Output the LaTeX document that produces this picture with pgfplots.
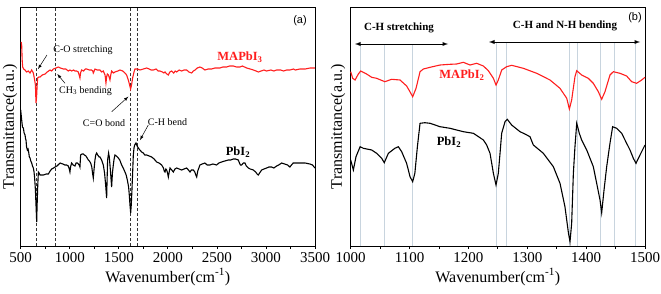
\documentclass[border=0pt]{standalone}
\usepackage{fontspec}
\setmainfont{Liberation Serif}
\newfontfamily\arialf{Liberation Sans}
\usepackage{pgfplots}
\pgfplotsset{compat=1.18}
\definecolor{myred}{RGB}{255,30,30}
\definecolor{vline}{RGB}{200,212,222}
\begin{document}
\begin{tikzpicture}
\path[use as bounding box] (0pt,0pt) rectangle (661pt,293pt);
\pgfplotsset{
  myax/.style={
    scale only axis, width=294.3pt, height=238.7pt,
    anchor=south west,
    ymin=-1, ymax=237.7,
    ytick=\empty,
    axis line style={line width=0.9pt},
    tick align=outside, xtick pos=bottom,
    major tick length=3pt, minor tick length=2.5pt,
    every tick/.style={black, line width=0.8pt},
    minor x tick num=1,
    tick label style={font=\fontsize{15}{15}\selectfont},
    /pgf/number format/assume math mode=true,
    /pgf/number format/set thousands separator={},
    label style={font=\fontsize{16}{16}\selectfont},
    xlabel={Wavenumber(cm\textsuperscript{-1})},
    ylabel={Transmittance(a.u.)},
    clip=false,
  }
}
% ---------- panel (a) ----------
\begin{axis}[myax, at={(20.7pt,47pt)}, xmin=500, xmax=3500,
  xtick={500,1000,1500,2000,2500,3000,3500},
  ylabel style={at={(axis description cs:-0.036,0.5)}, anchor=center, rotate=0},
  xlabel style={at={(axis description cs:0.5,-0.13)}, anchor=center}]
\draw[densely dashed, line width=0.6pt, gray!40!black] (axis cs:663,-1) -- (axis cs:663,237.7);
\draw[densely dashed, line width=0.6pt, gray!40!black] (axis cs:857,-1) -- (axis cs:857,237.7);
\draw[densely dashed, line width=0.6pt, gray!40!black] (axis cs:1621,-1) -- (axis cs:1621,237.7);
\draw[densely dashed, line width=0.6pt, gray!40!black] (axis cs:1685,-1) -- (axis cs:1685,237.7);
\addplot[myred, line width=1.1pt] table {
x y
505 203
510 200
515 185
520 178
530 176
544 175
560 173
578 174
595 172
612 175
629 172
642 165
650 160
656 142
660 146
663 150
668 160
673 167
685 168
697 168
720 170
748 171
770 173
799 175
815 174
833 176
860 177
883 178
905 177
934 176
960 176
985 174
1002 175
1020 174
1040 175
1053 174
1070 174
1087 173
1104 167
1110 172
1121 175
1140 174
1160 176
1172 176
1200 175
1223 175
1235 174
1240 172
1245 173
1257 176
1280 175
1308 175
1325 173
1342 174
1360 170
1369 162
1376 168
1383 171
1395 170
1410 165
1418 170
1427 174
1445 172
1461 173
1490 174
1512 175
1540 174
1563 172
1580 170
1597 165
1610 160
1620 156
1630 160
1641 167
1655 173
1665 176
1690 176
1716 175
1750 176
1784 177
1810 176
1830 175
1852 175
1880 176
1900 174
1920 174
1945 173
1960 172
1971 173
1990 171
2005 170
2020 173
2039 174
2060 172
2075 174
2090 173
2115 175
2141 174
2165 175
2192 175
2215 173
2243 172
2260 174
2277 175
2300 177
2327 178
2350 177
2378 175
2410 176
2446 176
2480 177
2510 177
2531 177
2560 178
2599 178
2630 179
2667 179
2700 178
2735 178
2760 179
2803 177
2840 176
2871 175
2900 174
2922 173
2950 174
2980 175
3007 174
3050 175
3080 174
3109 175
3150 175
3180 174
3210 175
3244 175
3280 176
3300 175
3346 176
3400 176
3450 177
3499 177
};
\addplot[black, line width=1.1pt] table {
x y
500 135
505 130
510 125
518 118
527 117
535 112
544 110
550 106
554 105
560 98
568 95
575 96
581 93
588 88
595 87
603 84
612 82
620 79
629 77
636 73
642 67
650 55
656 40
663 23
666 35
669 45
674 60
680 73
688 72
697 70
715 70
731 70
760 71
782 71
800 74
816 76
835 77
850 78
870 79
901 82
930 81
950 80
969 80
985 79
995 76
1002 73
1008 78
1019 82
1035 80
1053 79
1065 82
1077 82
1087 81
1097 80
1104 78
1111 90
1125 91
1138 91
1150 90
1165 89
1178 87
1189 85
1200 84
1213 82
1225 78
1232 72
1240 67
1247 75
1257 85
1265 90
1274 92
1285 90
1300 88
1308 88
1325 85
1342 80
1355 72
1366 60
1376 47
1382 70
1386 85
1396 92
1403 88
1410 80
1418 70
1427 58
1435 72
1444 80
1452 86
1461 90
1475 89
1495 87
1510 85
1529 80
1545 77
1563 73
1575 70
1587 65
1600 58
1607 50
1614 40
1621 32
1627 40
1634 55
1641 72
1648 90
1655 97
1662 100
1675 102
1687 99
1699 97
1715 95
1733 93
1750 92
1765 90
1784 90
1810 89
1835 88
1860 86
1886 83
1910 82
1937 80
1955 77
1963 74
1971 73
1980 76
1988 75
1997 72
2005 68
2012 72
2022 77
2040 75
2056 73
2072 76
2090 77
2115 76
2141 75
2165 76
2192 77
2210 75
2226 73
2240 75
2260 75
2275 73
2285 70
2294 68
2305 74
2327 80
2350 81
2378 82
2400 80
2429 80
2460 81
2497 80
2520 82
2548 83
2580 84
2616 85
2640 85
2667 86
2690 86
2718 85
2730 82
2740 80
2752 80
2770 82
2786 82
2800 79
2820 77
2840 76
2871 75
2895 73
2910 71
2922 70
2935 72
2956 75
2980 76
3007 77
3030 78
3058 78
3080 77
3109 79
3130 80
3160 82
3190 81
3220 80
3244 78
3260 80
3278 82
3310 82
3346 82
3400 82
3448 81
3475 80
3499 77
};
\end{axis}
% ---------- panel (b) ----------
\begin{axis}[myax, at={(350.7pt,47pt)}, xmin=1000, xmax=1500,
  xtick={1000,1100,1200,1300,1400,1500},
  ylabel style={at={(axis description cs:-0.043,0.5)}, anchor=center, rotate=0},
  xlabel style={at={(axis description cs:0.5,-0.13)}, anchor=center}]
\draw[vline, line width=0.9pt] (axis cs:1017,-1) -- (axis cs:1017,200);
\draw[vline, line width=0.9pt] (axis cs:1058,-1) -- (axis cs:1058,200);
\draw[vline, line width=0.9pt] (axis cs:1105,-1) -- (axis cs:1105,200);
\draw[vline, line width=0.9pt] (axis cs:1247,-1) -- (axis cs:1247,203);
\draw[vline, line width=0.9pt] (axis cs:1264,-1) -- (axis cs:1264,203);
\draw[vline, line width=0.9pt] (axis cs:1371,-1) -- (axis cs:1371,203);
\draw[vline, line width=0.9pt] (axis cs:1385,-1) -- (axis cs:1385,203);
\draw[vline, line width=0.9pt] (axis cs:1425,-1) -- (axis cs:1425,203);
\draw[vline, line width=0.9pt] (axis cs:1448,-1) -- (axis cs:1448,203);
\draw[vline, line width=0.9pt] (axis cs:1484,-1) -- (axis cs:1484,203);
\addplot[myred, line width=1.1pt] table {
x y
1000 173.3
1003.4 166.7
1007.4 165
1013 171
1017 174
1027 171
1035.7 167.7
1044 166.7
1058 163.3
1069.6 165.7
1083.8 165
1095 159
1100 154
1105.3 148.3
1111 156.7
1117.8 173.3
1123.4 176
1134.8 177.7
1151.8 180
1168.7 180.7
1180 181
1191.4 182.7
1202.7 180
1214 181.7
1225.4 179
1233.9 174.3
1242.4 166.7
1246.9 160
1250.8 165
1256.5 175
1265 178.3
1273.5 179.7
1293.3 176.7
1316 171.7
1338.6 165
1355.6 156.7
1367 146.7
1371.5 136
1375.4 145
1381 168.3
1384 174.3
1392.4 170
1403.7 166.7
1412.2 161.7
1420.7 153.3
1426.4 145.7
1432 153.3
1440.5 170
1446.2 173.3
1457.5 171.7
1468.8 169
1477.3 163.3
1485.8 161.7
1494.3 165
1500 167.7
};
\addplot[black, line width=1.1pt] table {
x y
1000 85
1004.5 75
1009 88.3
1016 98.3
1021.5 96.7
1035.7 95
1044 91.7
1052.7 86.7
1057 82.3
1064 91.7
1075 96.7
1081 98.3
1086.6 93.3
1095 81.7
1100.8 68.3
1105.3 63.3
1109 71.7
1113.3 98.3
1117.8 121.7
1126 122.3
1134.8 121.7
1151.8 118.3
1168.7 116.7
1191.4 113.3
1208.4 111.7
1225.4 105
1231 100
1236.7 91.7
1242.4 71.7
1246.9 60
1250.8 71.7
1253.7 91.7
1256.5 111.7
1262.2 123.3
1266 125.7
1273.5 120
1287.7 113.3
1296 111
1304.6 108.3
1310.3 100
1327.3 91.7
1344.3 78.3
1355.6 61.7
1364 38.3
1370 11.7
1372.6 3.3
1375.4 21.7
1378.3 71.7
1381 98.3
1384 121.7
1388.4 111.7
1392.4 105
1401 95
1412.2 78.3
1417.9 61.7
1423.6 45
1426.4 32.3
1430.4 55
1434.9 78.3
1440.5 101.7
1445 118.3
1451.9 116.7
1460.4 111.7
1466 105
1468.8 101.7
1474.5 95
1480.2 86.7
1484.7 81.7
1491.5 90
1500 100
};
\end{axis}
% ---------- annotations ----------
\node[font=\arialf\fontsize{11}{11}\selectfont] at (300pt,272pt) {(a)};
\node[font=\fontsize{10}{10}\selectfont] at (83pt,243pt) {C-O stretching};
\draw[-latex, line width=0.5pt] (47pt,238pt) -- (38pt,224pt);
\node[font=\fontsize{10}{10}\selectfont] at (85.5pt,202pt) {CH\textsubscript{3} bending};
\draw[-latex, line width=0.5pt] (65pt,209.7pt) -- (57.3pt,219pt);
\node[font=\fontsize{10}{10}\selectfont] at (104pt,170pt) {C=O bond};
\draw[-latex, line width=0.5pt] (111.7pt,181.3pt) -- (128.3pt,196.3pt);
\node[font=\fontsize{10}{10}\selectfont] at (167.5pt,171pt) {C-H bend};
\draw[-latex, line width=0.5pt] (148.3pt,168pt) -- (140pt,153pt);
\node[font=\bfseries\fontsize{12.5}{12.5}\selectfont, text=myred] at (240pt,236pt) {MAPbI\textsubscript{3}};
\node[font=\bfseries\fontsize{12.5}{12.5}\selectfont] at (238pt,141pt) {PbI\textsubscript{2}};
\node[font=\arialf\fontsize{11}{11}\selectfont] at (635pt,275pt) {(b)};
\node[font=\bfseries\fontsize{11}{11}\selectfont] at (399pt,265pt) {C-H stretching};
\draw[latex-latex, line width=0.9pt] (355pt,249pt) -- (448pt,249pt);
\node[font=\bfseries\fontsize{11}{11}\selectfont] at (565pt,267pt) {C-H and N-H bending};
\draw[latex-latex, line width=0.9pt] (489pt,251pt) -- (640pt,251pt);
\node[font=\bfseries\fontsize{12.5}{12.5}\selectfont, text=myred] at (462pt,218pt) {MAPbI\textsubscript{2}};
\node[font=\bfseries\fontsize{12.5}{12.5}\selectfont] at (449pt,151pt) {PbI\textsubscript{2}};
\end{tikzpicture}
\end{document}
